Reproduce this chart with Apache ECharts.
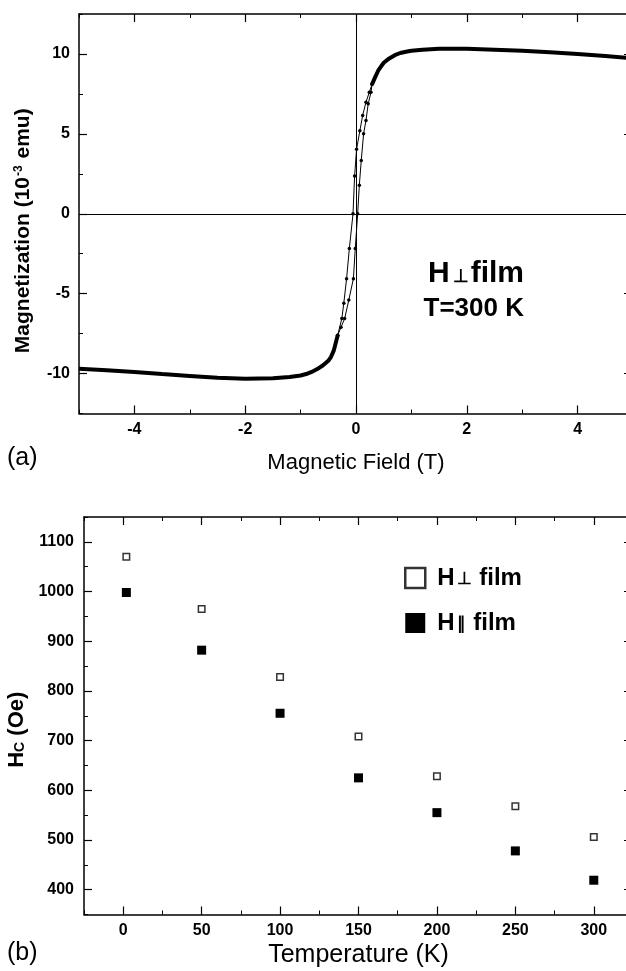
<!DOCTYPE html>
<html><head><meta charset="utf-8">
<script src="https://cdn.jsdelivr.net/npm/echarts@6/dist/echarts.min.js"></script>
<style>html,body{margin:0;padding:0;background:#fff}#c{width:626px;height:971px}</style>
</head><body><div id="c"></div>
<script>
// ---------- (a) hysteresis loop, H in T, M in 1e-3 emu ----------
const satNeg = [[-5.0,-9.7],[-4.5,-9.8],[-4.0,-9.9],[-3.5,-10.03],[-3.0,-10.15],[-2.5,-10.27],[-2.0,-10.33],[-1.5,-10.3],[-1.2,-10.22],[-1.0,-10.12],[-0.9,-10.03],[-0.8,-9.9],[-0.7,-9.72],[-0.6,-9.5],[-0.5,-9.2],[-0.45,-8.95],[-0.4,-8.55],[-0.33,-7.6]];
const satPos = [[0.29,8.1],[0.34,8.5],[0.4,8.95],[0.45,9.2],[0.5,9.45],[0.6,9.72],[0.7,9.92],[0.8,10.06],[0.9,10.14],[1.0,10.2],[1.2,10.27],[1.5,10.32],[2.0,10.32],[2.5,10.27],[3.0,10.2],[3.5,10.1],[4.0,10.0],[4.5,9.87],[5.0,9.72]];
const branchDown = [[0.29,8.1],[0.24,7.6],[0.18,6.98],[0.12,6.15],[0.07,5.2],[0.01,4.03],[-0.025,2.36],[-0.054,0],[-0.12,-2.18],[-0.17,-4.06],[-0.22,-5.6],[-0.256,-6.56],[-0.33,-7.6]];
const branchUp = [[-0.33,-7.6],[-0.27,-7.1],[-0.205,-6.56],[-0.13,-5.4],[-0.047,-4.06],[-0.013,-2.18],[0.03,0],[0.06,1.78],[0.095,3.34],[0.137,5.0],[0.18,5.84],[0.22,6.88],[0.27,7.6],[0.29,8.1]];
const fieldTicks = [-4,-2,0,2,4];
const magTicks = [-10,-5,0,5,10];

// ---------- (b) coercivity vs temperature ----------
const temps = [2,50,100,150,200,250,300];
const hcPerp = [1070,965,828,708,628,568,506];
const hcPar = [998,882,755,625,555,478,419];
const tempTicks = [0,50,100,150,200,250,300];
const hcTicks = [400,500,600,700,800,900,1000,1100];

const FF = '"Liberation Sans", Arial, Helvetica, sans-serif';
const K = '#000';
const plain = v => String(v);

function majorX(grid, pos, min, max, ticks, showLabel, labelStyle, extra) {
  return Object.assign({
    type:'value', gridIndex:grid, position:pos, min:min, max:max,
    axisLine:{show:true, onZero:false, lineStyle:{color:K, width:1.5}},
    axisTick:{show:true, inside:true, length:8, customValues:ticks, lineStyle:{color:K, width:1.2}},
    axisLabel:Object.assign({show:showLabel, customValues:ticks, color:K, fontFamily:FF, formatter:plain}, labelStyle||{}),
    splitLine:{show:false}
  }, extra||{});
}
function minorX(grid, pos, min, max, interval) {
  return {type:'value', gridIndex:grid, position:pos, min:min, max:max, interval:interval,
    axisLine:{show:false, onZero:false}, axisTick:{show:true, inside:true, length:4, lineStyle:{color:K, width:1}},
    axisLabel:{show:false}, splitLine:{show:false}};
}

const chart = echarts.init(document.getElementById('c'), null, {renderer:'canvas'});
const opt = {
  animation:false,
  backgroundColor:'#fff',
  textStyle:{fontFamily:FF},
  grid:[
    {left:79, top:14, right:-7, height:399.5, containLabel:false, outerBoundsMode:'none'},
    {left:84, top:517, right:-7, height:397.5, containLabel:false, outerBoundsMode:'none'}
  ],
  xAxis:[
    majorX(0,'bottom',-5,5,fieldTicks,true,{fontSize:16,fontWeight:'bold',margin:8},
      {name:'Magnetic Field (T)', nameLocation:'middle', nameGap:38,
       nameTextStyle:{fontSize:22, color:K, fontFamily:FF}}),
    minorX(0,'bottom',-5,5,1),
    majorX(0,'top',-5,5,fieldTicks,false),
    minorX(0,'top',-5,5,1),
    majorX(1,'bottom',-25,325,tempTicks,true,{fontSize:16,fontWeight:'bold',margin:8},
      {name:'Temperature (K)', nameLocation:'middle', nameGap:28,
       nameTextStyle:{fontSize:25, color:K, fontFamily:FF}}),
    minorX(1,'bottom',-25,325,25),
    majorX(1,'top',-25,325,tempTicks,false),
    minorX(1,'top',-25,325,25)
  ],
  yAxis:[
    majorX(0,'left',-12.5,12.5,magTicks,true,{fontSize:16,fontWeight:'bold',margin:9},
      {name:'Magnetization (10{sup|-3} emu)', nameLocation:'middle', nameRotate:90, nameGap:45,
       nameTextStyle:{fontSize:21, fontWeight:'bold', color:K, fontFamily:FF, padding:[0,34,0,0],
         rich:{sup:{fontSize:12, fontWeight:'bold', color:K, fontFamily:FF, verticalAlign:'top', padding:[0,1,0,1]}}}}),
    minorX(0,'left',-12.5,12.5,2.5),
    majorX(0,'right',-12.5,12.5,magTicks,false,null,{axisTick:{show:true, inside:true, length:9, customValues:magTicks, lineStyle:{color:K, width:1.2}}}),
    majorX(1,'left',350,1150,hcTicks,true,{fontSize:16,fontWeight:'bold',margin:10},
      {name:'H{sub|C} (Oe)', nameLocation:'middle', nameRotate:90, nameGap:52,
       nameTextStyle:{fontSize:22, fontWeight:'bold', color:K, fontFamily:FF, padding:[0,28,0,0],
         rich:{sub:{fontSize:14, fontWeight:'bold', color:K, fontFamily:FF, verticalAlign:'bottom'}}}}),
    minorX(1,'left',350,1150,50),
    majorX(1,'right',350,1150,hcTicks,false,null,{axisTick:{show:true, inside:true, length:9, customValues:hcTicks, lineStyle:{color:K, width:1.2}}})
  ],
  legend:{
    show:true, orient:'vertical', left:399, top:561, itemWidth:20, itemHeight:20, itemGap:21,
    formatter: n => n.replace('⊥','{s|⊥}').replace('∥','{s|∥}'),
    textStyle:{fontSize:24, fontWeight:'bold', color:K, fontFamily:FF, padding:[0,0,0,7],
      rich:{s:{fontSize:17, fontWeight:'bold', color:K, fontFamily:FF, verticalAlign:'bottom', padding:[0,1,2,2]}}},
    data:[{name:'H⊥ film', itemStyle:{color:'#fff', borderColor:K, borderWidth:2.5}},
          {name:'H∥ film', itemStyle:{color:K}}]
  },
  series:[
    {type:'line', xAxisIndex:0, yAxisIndex:0, data:satNeg, showSymbol:false, symbol:'none',
     lineStyle:{color:K, width:4}, z:3,
     markLine:{silent:true, symbol:['none','none'], label:{show:false},
       lineStyle:{color:K, width:1, type:'solid'}, data:[{xAxis:0},{yAxis:0}]}},
    {type:'line', xAxisIndex:0, yAxisIndex:0, data:satPos, symbol:'none', lineStyle:{color:K, width:4}, z:3},
    {type:'line', xAxisIndex:0, yAxisIndex:0, data:branchDown, symbol:'circle', symbolSize:3.5,
     itemStyle:{color:K}, lineStyle:{color:K, width:1}, z:4},
    {type:'line', xAxisIndex:0, yAxisIndex:0, data:branchUp, symbol:'circle', symbolSize:3.5,
     itemStyle:{color:K}, lineStyle:{color:K, width:1}, z:4},
    {name:'H⊥ film', type:'scatter', xAxisIndex:4, yAxisIndex:3, symbol:'rect', symbolSize:6.5,
     itemStyle:{color:'#fff', borderColor:K, borderWidth:1.5},
     data:temps.map((t,i)=>[t,hcPerp[i]])},
    {name:'H∥ film', type:'scatter', xAxisIndex:4, yAxisIndex:3, symbol:'rect', symbolSize:9,
     itemStyle:{color:K, opacity:1},
     data:temps.map((t,i)=>[t,hcPar[i]])}
  ],
  graphic:[
    {type:'text', right:102, top:259, style:{text:'H{s|⊥}film', font:'bold 30px '+FF, fill:K,
      rich:{s:{fontSize:18, fontWeight:'bold', fontFamily:FF, fill:K, verticalAlign:'bottom', padding:[0,2,3,3]}}}},
    {type:'text', right:102, top:296, style:{text:'T=300 K', font:'bold 26px '+FF, fill:K}},
    {type:'text', left:7, top:446, style:{text:'(a)', font:'25px '+FF, fill:K}},
    {type:'text', left:7, top:941, style:{text:'(b)', font:'25px '+FF, fill:K}}
  ]
};
chart.setOption(opt);
</script></body></html>
